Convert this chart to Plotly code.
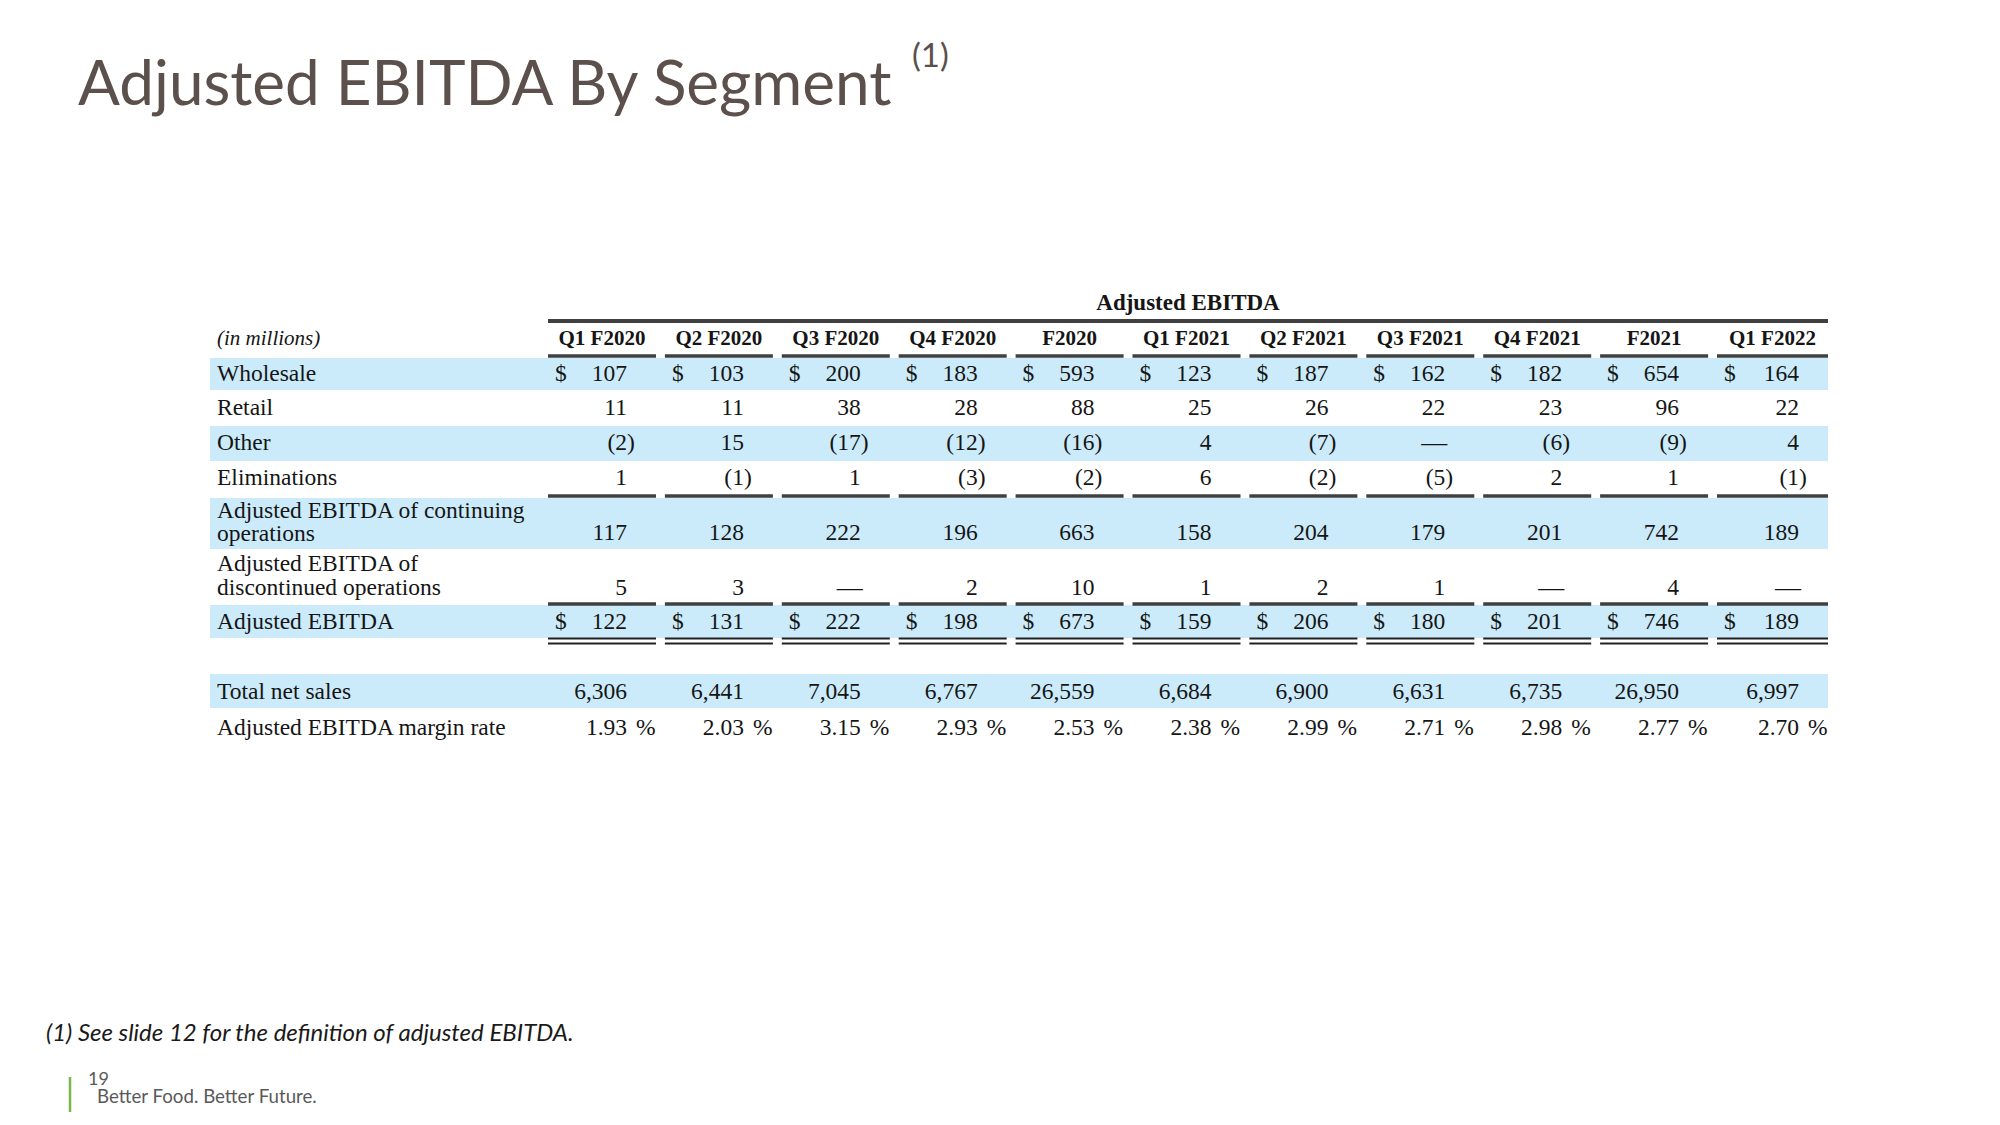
import plotly.graph_objects as go

# ---------------- data ----------------
columns = ["Q1 F2020", "Q2 F2020", "Q3 F2020", "Q4 F2020", "F2020",
           "Q1 F2021", "Q2 F2021", "Q3 F2021", "Q4 F2021", "F2021", "Q1 F2022"]
wholesale = [107, 103, 200, 183, 593, 123, 187, 162, 182, 654, 164]
retail = [11, 11, 38, 28, 88, 25, 26, 22, 23, 96, 22]
other = [-2, 15, -17, -12, -16, 4, -7, None, -6, -9, 4]
eliminations = [1, -1, 1, -3, -2, 6, -2, -5, 2, 1, -1]
continuing_ops = [117, 128, 222, 196, 663, 158, 204, 179, 201, 742, 189]
discontinued_ops = [5, 3, None, 2, 10, 1, 2, 1, None, 4, None]
adjusted_ebitda = [122, 131, 222, 198, 673, 159, 206, 180, 201, 746, 189]
total_net_sales = [6306, 6441, 7045, 6767, 26559, 6684, 6900, 6631, 6735, 26950, 6997]
margin_rate = [1.93, 2.03, 3.15, 2.93, 2.53, 2.38, 2.99, 2.71, 2.98, 2.77, 2.70]

row_labels = [
    ["Wholesale"],
    ["Retail"],
    ["Other"],
    ["Eliminations"],
    ["Adjusted EBITDA of continuing", "operations"],
    ["Adjusted EBITDA of", "discontinued operations"],
    ["Adjusted EBITDA"],
    ["Total net sales"],
    ["Adjusted EBITDA margin rate"],
]
row_values = [wholesale, retail, other, eliminations, continuing_ops,
              discontinued_ops, adjusted_ebitda, total_net_sales, margin_rate]
row_kind = ["dollar", "num", "num", "num", "num", "num", "dollar", "num", "pct"]

title_text = "Adjusted EBITDA By Segment"
title_note = "(1)"
group_header = "Adjusted EBITDA"
units_label = "(in millions)"
footnote = "(1) See slide 12 for the definition of adjusted EBITDA."
page_number = "19"
tagline = "Better Food. Better Future."

# ---------------- layout geometry (pixels) ----------------
W, H = 2000, 1125
COL_X0, COL_PITCH, COL_W = 548, 116.9, 108
TABLE_LEFT, TABLE_RIGHT = 210, 1828
LABEL_X = 217
HEADER_Y, GROUP_Y, TOP_LINE_Y, HEADER_LINE_Y = 340, 304, 321, 356
ROW_Y = [375, 409, 444.5, 479, 534, 589, 623, 693, 729]
LABEL_YS = [[375], [409], [444.5], [479], [512, 535], [565, 589], [623], [693], [729]]
BANDS = [(358, 390), None, (426, 461), None, (498, 549), None, (605, 638), (674, 708), None]
SINGLE_LINES = [496, 604]
DOUBLE_LINES = [638.5, 643.5]

SERIF = "Liberation Serif"
SANS = "Lato"
TXT = "#151515"
BAND = "#CCEBFA"
RULE = "#404040"
TFS = 23.5

ncol = len(columns)
col_left = [COL_X0 + i * COL_PITCH for i in range(ncol)]
col_right = [col_left[i] + COL_W for i in range(ncol)]
col_right[-1] = TABLE_RIGHT
digit_edge = [r - 29 for r in col_right]
PAREN = 0.333 * TFS

fig = go.Figure()

right_x, right_y, right_t = [], [], []
left_x, left_y, left_t = [], [], []
dash_x, dash_y = [], []

for r, (vals, kind) in enumerate(zip(row_values, row_kind)):
    y = ROW_Y[r]
    for i, v in enumerate(vals):
        if kind == "dollar":
            left_x.append(col_left[i] + 7)
            left_y.append(y)
            left_t.append("$")
        if v is None:
            dash_x.append(digit_edge[i] + 2)
            dash_y.append(y)
            continue
        if kind == "pct":
            right_x.append(digit_edge[i]); right_y.append(y); right_t.append(f"{v:.2f}")
            left_x.append(digit_edge[i] + 9); left_y.append(y); left_t.append("%")
        elif v < 0:
            right_x.append(digit_edge[i] + PAREN); right_y.append(y); right_t.append(f"({abs(v):,})")
        else:
            right_x.append(digit_edge[i]); right_y.append(y); right_t.append(f"{v:,}")

lab_x, lab_y, lab_t = [], [], []
for r, lines in enumerate(row_labels):
    for ln, ly in zip(lines, LABEL_YS[r]):
        lab_x.append(LABEL_X); lab_y.append(ly); lab_t.append(ln)

font_reg = dict(family=SERIF, size=TFS, color=TXT)

fig.add_trace(go.Scatter(x=right_x, y=right_y, text=right_t, mode="text",
                         textposition="middle left", textfont=font_reg, hoverinfo="skip"))
fig.add_trace(go.Scatter(x=left_x, y=left_y, text=left_t, mode="text",
                         textposition="middle right", textfont=font_reg, hoverinfo="skip"))
fig.add_trace(go.Scatter(x=dash_x, y=dash_y, text=["\u2014"] * len(dash_x), mode="text",
                         textposition="middle left", textfont=dict(family=SERIF, size=26, color=TXT),
                         hoverinfo="skip"))
fig.add_trace(go.Scatter(x=lab_x, y=lab_y, text=lab_t, mode="text",
                         textposition="middle right", textfont=font_reg, hoverinfo="skip"))
fig.add_trace(go.Scatter(x=[(a + b) / 2 for a, b in zip(col_left, col_right)], y=[HEADER_Y] * ncol,
                         text=[f"<b>{c}</b>" for c in columns], mode="text", textposition="middle center",
                         textfont=dict(family=SERIF, size=21, color=TXT), hoverinfo="skip"))
fig.add_trace(go.Scatter(x=[(COL_X0 + TABLE_RIGHT) / 2], y=[GROUP_Y], text=[f"<b>{group_header}</b>"],
                         mode="text", textposition="middle center",
                         textfont=dict(family=SERIF, size=23, color=TXT), hoverinfo="skip"))
fig.add_trace(go.Scatter(x=[LABEL_X], y=[HEADER_Y], text=[f"<i>{units_label}</i>"], mode="text",
                         textposition="middle right",
                         textfont=dict(family=SERIF, size=21, color=TXT), hoverinfo="skip"))

shapes = []
for b in BANDS:
    if b:
        shapes.append(dict(type="rect", xref="x", yref="y", x0=TABLE_LEFT, x1=TABLE_RIGHT,
                           y0=b[0], y1=b[1], fillcolor=BAND, line=dict(width=0), layer="below"))
shapes.append(dict(type="line", xref="x", yref="y", x0=COL_X0, x1=TABLE_RIGHT, y0=TOP_LINE_Y,
                   y1=TOP_LINE_Y, line=dict(color=RULE, width=4)))
for yl in [HEADER_LINE_Y] + SINGLE_LINES:
    for i in range(ncol):
        shapes.append(dict(type="line", xref="x", yref="y", x0=col_left[i], x1=col_right[i],
                           y0=yl, y1=yl, line=dict(color=RULE, width=3.5)))
for yl in DOUBLE_LINES:
    for i in range(ncol):
        shapes.append(dict(type="line", xref="x", yref="y", x0=col_left[i], x1=col_right[i],
                           y0=yl, y1=yl, line=dict(color="#222222", width=2.2)))
shapes.append(dict(type="line", xref="x", yref="y", x0=70, x1=70, y0=1077, y1=1112,
                   line=dict(color="#7AB648", width=2.5)))

annotations = [
    dict(x=76, y=81, xref="x", yref="y", text=title_text, showarrow=False, xanchor="left",
         yanchor="middle", font=dict(family=SANS, size=62, color="#5B504B")),
    dict(x=910, y=54, xref="x", yref="y", text=title_note, showarrow=False, xanchor="left",
         yanchor="middle", font=dict(family=SANS, size=33, color="#5B504B")),
    dict(x=44, y=1031, xref="x", yref="y", text=f"<i>{footnote}</i>", showarrow=False, xanchor="left",
         yanchor="middle", font=dict(family=SANS, size=24, color="#1a1a1a")),
    dict(x=86, y=1078, xref="x", yref="y", text=page_number, showarrow=False, xanchor="left",
         yanchor="middle", font=dict(family=SANS, size=18, color="#595959")),
    dict(x=95, y=1096, xref="x", yref="y", text=tagline, showarrow=False, xanchor="left",
         yanchor="middle", font=dict(family=SANS, size=18.7, color="#595959")),
]

fig.update_layout(
    width=W, height=H, margin=dict(l=0, r=0, t=0, b=0),
    paper_bgcolor="white", plot_bgcolor="white", showlegend=False,
    xaxis=dict(range=[0, W], visible=False, fixedrange=True),
    yaxis=dict(range=[H, 0], visible=False, fixedrange=True),
    shapes=shapes, annotations=annotations,
)

fig.write_html("out.html", config={"displayModeBar": False},
               post_script="document.body.style.margin='0';document.body.style.overflow='hidden';")
